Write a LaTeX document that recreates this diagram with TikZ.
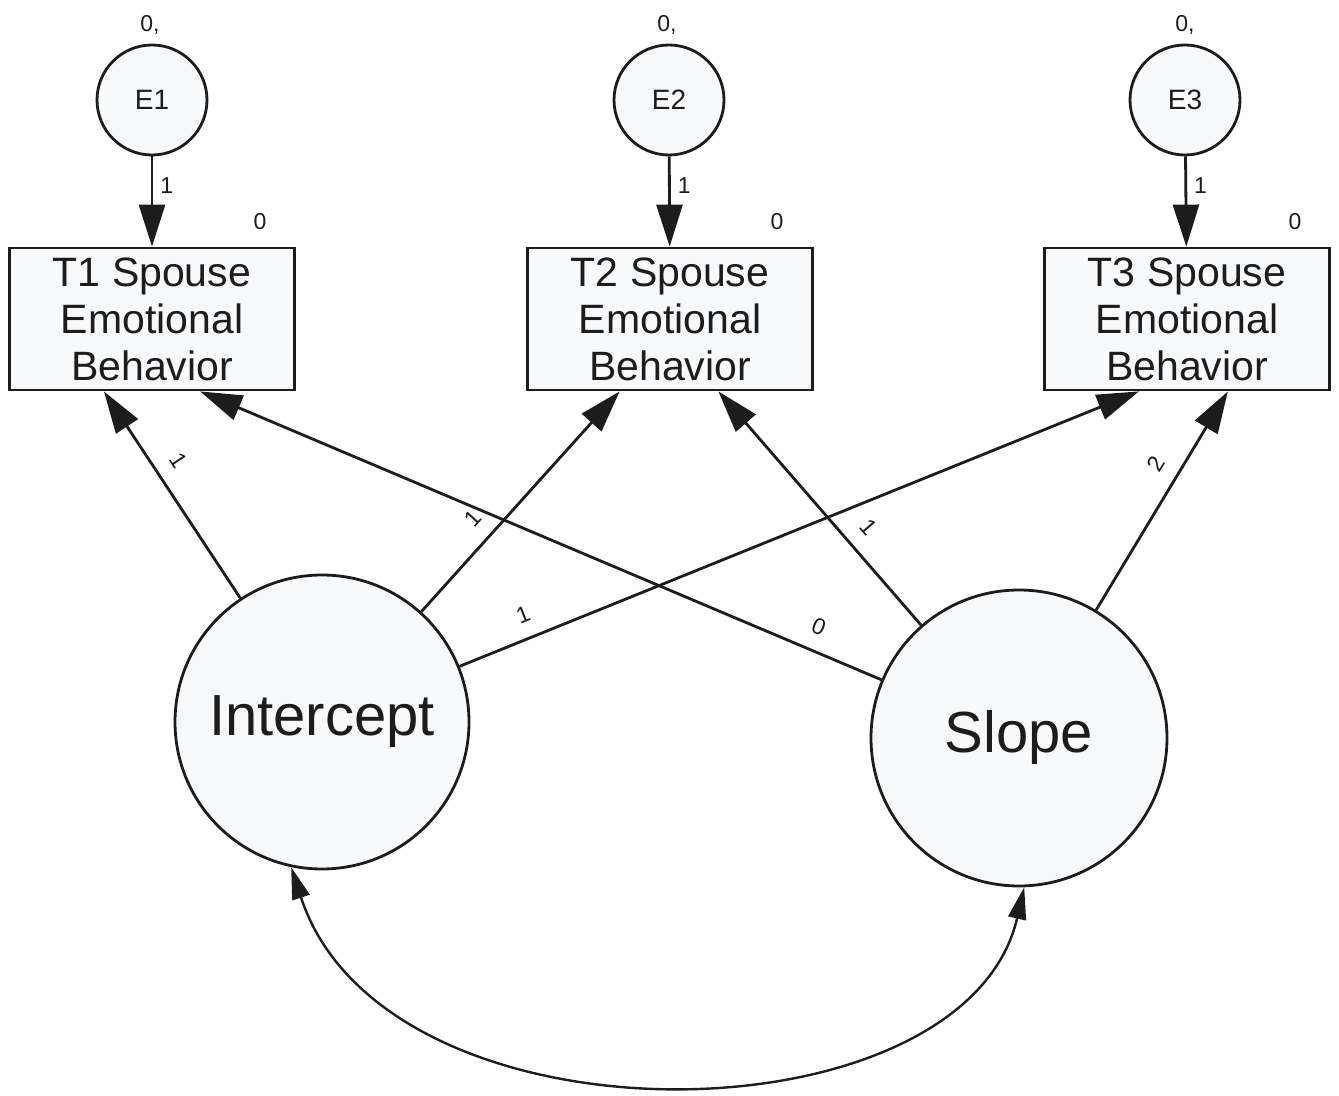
\documentclass[tikz,border=0pt]{standalone}
\usepackage{fontspec}
\setmainfont{Liberation Sans}
\usetikzlibrary{arrows.meta,calc}
\definecolor{nodefill}{RGB}{248,249,251}
\definecolor{ink}{RGB}{28,28,28}
\begin{document}
\begin{tikzpicture}[x=0.5pt,y=-0.5pt,
  errnode/.style={circle, draw=ink, line width=1.4pt, fill=nodefill, minimum size=55pt, inner sep=0pt, text=ink, font=\fontsize{14}{16}\selectfont},
  latnode/.style={circle, draw=ink, line width=1.4pt, fill=nodefill, inner sep=0pt, text=ink, font=\fontsize{29}{34}\selectfont},
  obsnode/.style={rectangle, draw=ink, line width=1.4pt, fill=nodefill, minimum width=142.5pt, minimum height=71pt, inner sep=0pt, align=center, text=ink, font=\fontsize{20.5}{23.5}\selectfont},
  lab/.style={font=\fontsize{11.5}{13}\selectfont, inner sep=1.5pt, text=ink},
  reg/.style={-{Triangle[length=21pt,width=13pt]}, draw=ink, line width=1.4pt},
  cov/.style={{Triangle[length=16pt,width=9pt]}-{Triangle[length=16pt,width=9pt]}, draw=ink, line width=1.2pt}
]
\useasboundingbox (0,0) rectangle (1339,1096);

% error terms
\node[errnode] (E1) at (152,100) {E1};
\node[errnode] (E2) at (669,100) {E2};
\node[errnode] (E3) at (1185,100) {E3};
\node[lab] (v1) at (150,25) {0,};
\node[lab] (v2) at (667,25) {0,};
\node[lab] (v3) at (1185,25) {0,};

% observed
\node[obsnode] (T1) at (152,319) {T1 Spouse\\Emotional\\Behavior};
\node[obsnode] (T2) at (670,319) {T2 Spouse\\Emotional\\Behavior};
\node[obsnode] (T3) at (1187,319) {T3 Spouse\\Emotional\\Behavior};
\node[lab] (m1) at (260,222) {0};
\node[lab] (m2) at (777,222) {0};
\node[lab] (m3) at (1295,222) {0};

% latent
\node[latnode, minimum size=147pt] (I) at (322,722) {Intercept};
\node[latnode, minimum size=148pt] (S) at (1019,738) {Slope};

% anchor points on box bottoms
\coordinate (T1a) at ($(T1.south west)!0.333!(T1.south east)$);
\coordinate (T1b) at ($(T1.south west)!0.667!(T1.south east)$);
\coordinate (T2a) at ($(T2.south west)!0.325!(T2.south east)$);
\coordinate (T2b) at ($(T2.south west)!0.668!(T2.south east)$);
\coordinate (T3a) at ($(T3.south west)!0.333!(T3.south east)$);
\coordinate (T3b) at ($(T3.south west)!0.642!(T3.south east)$);

% error paths
\draw[reg] (E1) -- (T1) node[lab, pos=0.32, right=2pt] {1};
\draw[reg] (E2) -- (T2) node[lab, pos=0.32, right=2pt] {1};
\draw[reg] (E3) -- (T3) node[lab, pos=0.32, right=2pt] {1};

% loadings
\draw[reg] (I) -- (T1a) node[lab, pos=0.6, sloped, above=6pt] {1};
\draw[reg] (I) -- (T2a) node[lab, pos=0.35, sloped, above=6pt] {1};
\draw[reg] (I) -- (T3a) node[lab, pos=0.107, sloped, above=6pt] {1};
\draw[reg] (S) -- (T1b) node[lab, pos=0.106, sloped, above=6pt] {0};
\draw[reg] (S) -- (T2b) node[lab, pos=0.35, sloped, above=6pt] {1};
\draw[reg] (S) -- (T3b) node[lab, pos=0.61, sloped, above=6pt] {2};

% covariance
\draw[cov] (I.-102) .. controls (385,1155) and (965,1145) .. (S.-88);
\end{tikzpicture}
\end{document}
